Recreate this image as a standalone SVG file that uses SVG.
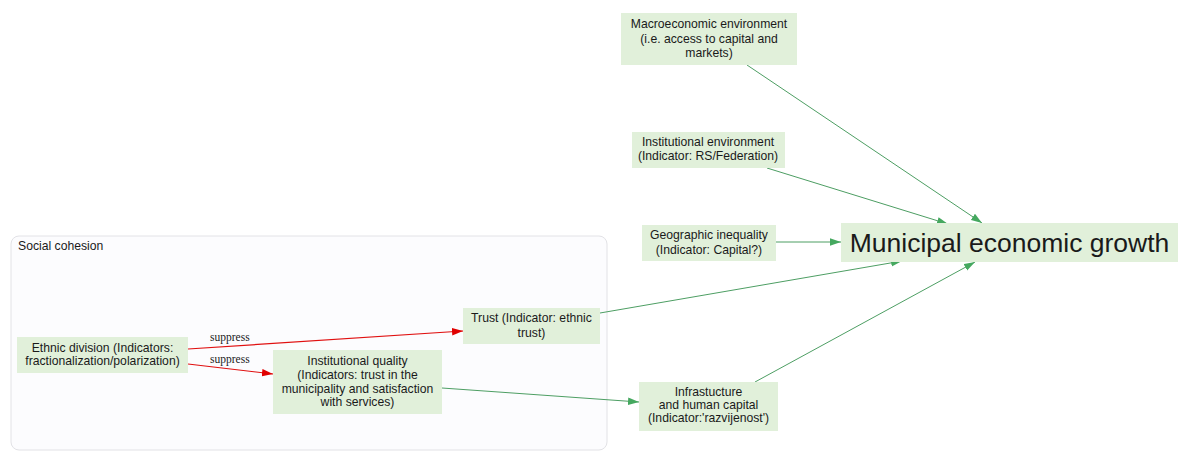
<svg xmlns="http://www.w3.org/2000/svg" width="1178" height="452" viewBox="0 0 1178 452">
<style>
.node rect{fill:#e1f0da;stroke:none}
.node text{font-family:"Liberation Sans",Arial,sans-serif;font-size:12.2px;fill:#1a1a1a;text-anchor:middle}
.big{font-size:26.5px !important}
.cl{fill:#fcfcfe;stroke:#e2e2e6;stroke-width:1}
.cltext{font-family:"Liberation Sans",Arial,sans-serif;font-size:12.2px;fill:#1a1a1a}
.g{stroke:#4d9e63;stroke-width:1;fill:none;marker-end:url(#ag)}
.r{stroke:#e01010;stroke-width:1.2;fill:none;marker-end:url(#ar)}
.lbl{font-family:"Liberation Serif","Times New Roman",serif;font-size:11.5px;fill:#222}
</style>
<defs>
<marker id="ag" markerUnits="userSpaceOnUse" markerWidth="12" markerHeight="8" refX="11" refY="3.75" orient="auto"><path d="M0,0 L11,3.75 L0,7.5 z" fill="#45a85f"/></marker>
<marker id="ar" markerUnits="userSpaceOnUse" markerWidth="12" markerHeight="8" refX="11" refY="3.75" orient="auto"><path d="M0,0 L11,3.75 L0,7.5 z" fill="#e00000"/></marker>
</defs>
<rect width="1178" height="452" fill="#ffffff"/>
<g id="cluster-social-cohesion">
<rect class="cl" x="11" y="236" width="596" height="214" rx="8"/>
<text class="cltext" x="18" y="250">Social cohesion</text>
</g>
<g id="connectors">
<line class="r" x1="188" y1="349" x2="463" y2="331"/>
<line class="r" x1="188" y1="364" x2="273" y2="374"/>
<text class="lbl" x="210" y="341">suppress</text>
<text class="lbl" x="210" y="363">suppress</text>
<line class="g" x1="442" y1="388" x2="639" y2="402"/>
<line class="g" x1="600" y1="313" x2="902" y2="261"/>
<line class="g" x1="755" y1="382" x2="975" y2="262"/>
<line class="g" x1="776" y1="242" x2="841" y2="242"/>
<line class="g" x1="767" y1="168" x2="948" y2="224"/>
<line class="g" x1="747" y1="65" x2="982" y2="223"/>
</g>
<g id="macro" class="node">
<rect x="621" y="13" width="176" height="52"/>
<text x="709" y="28">Macroeconomic environment</text>
<text x="709" y="43">(i.e. access to capital and</text>
<text x="709" y="57">markets)</text>
</g>
<g id="inst-env" class="node">
<rect x="632" y="132" width="153" height="36"/>
<text x="708" y="146">Institutional environment</text>
<text x="708" y="160">(Indicator: RS/Federation)</text>
</g>
<g id="geo" class="node">
<rect x="642" y="225" width="134" height="36"/>
<text x="709" y="239">Geographic inequality</text>
<text x="709" y="254">(Indicator: Capital?)</text>
</g>
<g id="growth" class="node">
<rect x="841" y="223" width="337" height="39"/>
<text class="big" x="1009.5" y="252">Municipal economic growth</text>
</g>
<g id="ethnic" class="node">
<rect x="17" y="337" width="171" height="36"/>
<text x="102.5" y="352">Ethnic division (Indicators:</text>
<text x="102.5" y="365">fractionalization/polarization)</text>
</g>
<g id="trust" class="node">
<rect x="463" y="308" width="137" height="36"/>
<text x="531.5" y="322">Trust (Indicator: ethnic</text>
<text x="531.5" y="337">trust)</text>
</g>
<g id="inst-quality" class="node">
<rect x="273" y="350" width="169" height="64"/>
<text x="357.5" y="365">Institutional quality</text>
<text x="357.5" y="379">(Indicators: trust in the</text>
<text x="357.5" y="393">municipality and satisfaction</text>
<text x="357.5" y="406">with services)</text>
</g>
<g id="infra" class="node">
<rect x="639" y="382" width="139" height="49"/>
<text x="708.5" y="396">Infrastucture</text>
<text x="708.5" y="409">and human capital</text>
<text x="708.5" y="422">(Indicator:'razvijenost')</text>
</g>
</svg>
